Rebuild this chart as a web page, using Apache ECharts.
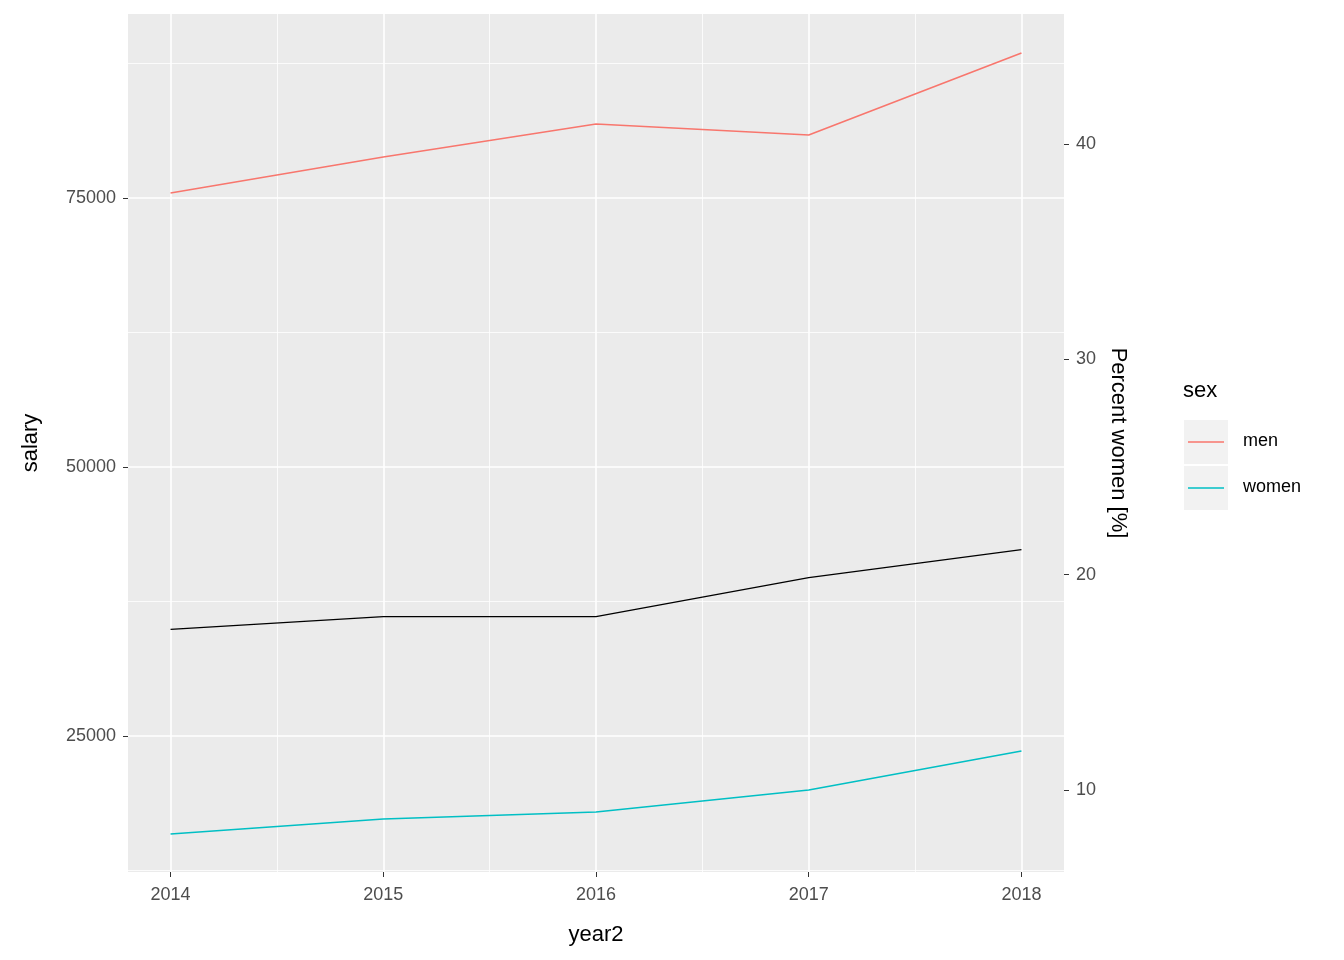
<!DOCTYPE html>
<html>
<head>
<meta charset="utf-8">
<script src="https://cdn.jsdelivr.net/npm/echarts@6/dist/echarts.min.js"></script>
<style>html,body{margin:0;padding:0;background:#fff}</style>
</head>
<body>
<div id="main" style="width:1344px;height:960px"></div>
<script>
var years = [2014, 2015, 2016, 2017, 2018];
var salaryMen = [75460, 78810, 81880, 80860, 88480];
var salaryWomen = [15890, 17290, 17940, 19980, 23610];
var percentWomen = [17.45, 18.05, 18.05, 19.86, 21.16];
var salaryTicks = [25000, 50000, 75000];
var percentTicks = [10, 20, 30, 40];

function pairs(ys) {
  return years.map(function (y, i) { return [y, ys[i]]; });
}

var labelStyle = { color: '#4D4D4D', fontSize: 18, fontFamily: 'Liberation Sans, Arial' };
var nameStyle = { color: '#000', fontSize: 22, fontFamily: 'Liberation Sans, Arial' };
var tickLine = { color: '#333', width: 1 };

var myChart = echarts.init(document.getElementById('main'));
myChart.setOption({
  animation: false,
  grid: {
    left: 128, right: 280, top: 14, bottom: 88,
    show: true, backgroundColor: '#EBEBEB', borderWidth: 0
  },
  xAxis: {
    type: 'value', min: 2013.8, max: 2018.2, minInterval: 1, maxInterval: 1,
    name: 'year2', nameLocation: 'middle', nameGap: 52, nameTextStyle: nameStyle,
    axisLine: { show: false },
    axisTick: { show: true, length: 5, lineStyle: tickLine, customValues: years },
    axisLabel: { ...labelStyle, margin: 14, customValues: years, formatter: function (v) { return String(v); } },
    splitLine: { lineStyle: { color: '#fff', width: 1.6 } },
    minorTick: { show: false, splitNumber: 2 },
    minorSplitLine: { show: true, lineStyle: { color: '#fff', width: 0.8 } }
  },
  yAxis: [
    {
      type: 'value', min: 12361, max: 92100, minInterval: 25000, maxInterval: 25000,
      name: 'salary', nameLocation: 'middle', nameGap: 86, nameTextStyle: nameStyle,
      axisLine: { show: false },
      axisTick: { show: true, length: 5, lineStyle: tickLine, customValues: salaryTicks },
      axisLabel: { ...labelStyle, margin: 12, customValues: salaryTicks, formatter: function (v) { return String(v); } },
      splitLine: { lineStyle: { color: '#fff', width: 1.6 } },
      minorTick: { show: false, splitNumber: 2 },
      minorSplitLine: { show: true, lineStyle: { color: '#fff', width: 0.8 } }
    },
    {
      type: 'value', position: 'right', min: 6.18, max: 46.05, minInterval: 10, maxInterval: 10,
      name: 'Percent women [%]', nameLocation: 'middle', nameGap: 40, nameRotate: -90,
      nameTextStyle: nameStyle,
      axisLine: { show: false },
      axisTick: { show: true, length: 5, lineStyle: tickLine, customValues: percentTicks },
      axisLabel: { ...labelStyle, margin: 12, customValues: percentTicks },
      splitLine: { show: false }
    }
  ],
  series: [
    { name: 'men', type: 'line', data: pairs(salaryMen), showSymbol: false,
      lineStyle: { color: '#F8766D', width: 1.6 }, itemStyle: { color: '#F8766D' } },
    { name: 'women', type: 'line', data: pairs(salaryWomen), showSymbol: false,
      lineStyle: { color: '#00BFC4', width: 1.6 }, itemStyle: { color: '#00BFC4' } },
    { name: 'percent', type: 'line', yAxisIndex: 1, data: pairs(percentWomen), showSymbol: false,
      lineStyle: { color: '#000', width: 1.3 } }
  ],
  graphic: [
    { type: 'text', left: 1183, top: 380, style: { text: 'sex', fontSize: 22, fill: '#000', fontFamily: 'Liberation Sans, Arial' } },
    { type: 'rect', shape: { x: 1184, y: 420, width: 44, height: 44 }, style: { fill: '#F2F2F2' } },
    { type: 'rect', shape: { x: 1184, y: 466, width: 44, height: 44 }, style: { fill: '#F2F2F2' } },
    { type: 'line', shape: { x1: 1188, y1: 442, x2: 1224, y2: 442 }, style: { stroke: '#F8766D', lineWidth: 1.6 } },
    { type: 'line', shape: { x1: 1188, y1: 488, x2: 1224, y2: 488 }, style: { stroke: '#00BFC4', lineWidth: 1.6 } },
    { type: 'text', left: 1243, top: 432, style: { text: 'men', fontSize: 18, fill: '#000', fontFamily: 'Liberation Sans, Arial' } },
    { type: 'text', left: 1243, top: 478, style: { text: 'women', fontSize: 18, fill: '#000', fontFamily: 'Liberation Sans, Arial' } }
  ]
});
</script>
</body>
</html>
